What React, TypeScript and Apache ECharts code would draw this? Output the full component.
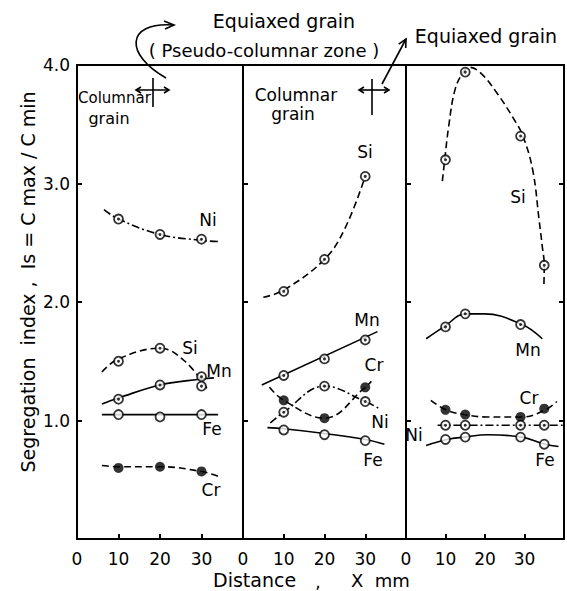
import React, { useEffect, useRef } from "react";
import * as echarts from "echarts";

// ---- data ----
const ptsX12 = [10, 20, 30];
const ptsX3 = [10, 15, 29, 35];

// Panel 1 (columnar grain)
const p1Ni = [2.70, 2.57, 2.53];
const p1Si = [1.50, 1.61, 1.29];
const p1Mn = [1.18, 1.30, 1.37];
const p1Fe = [1.05, 1.03, 1.05];
const p1Cr = [0.60, 0.61, 0.57];
const p1NiCurve = [[6.5, 2.78], [10, 2.70], [20, 2.57], [30, 2.52], [34, 2.51]];
const p1SiCurve = [[6, 1.41], [10, 1.52], [20, 1.61], [26, 1.50], [31.5, 1.26]];
const p1MnCurve = [[6, 1.14], [10, 1.19], [20, 1.30], [30, 1.35], [33, 1.36]];
const p1FeCurve = [[6, 1.05], [34, 1.05]];
const p1CrCurve = [[6, 0.62], [10, 0.61], [20, 0.61], [30, 0.57], [34, 0.53]];

// Panel 2 (pseudo-columnar)
const p2Si = [2.09, 2.36, 3.06];
const p2Mn = [1.38, 1.52, 1.68];
const p2Cr = [1.17, 1.02, 1.28];
const p2Ni = [1.07, 1.29, 1.16];
const p2Fe = [0.92, 0.88, 0.83];
const p2SiCurve = [[5, 2.04], [10, 2.10], [20, 2.36], [25, 2.62], [30, 3.06]];
const p2MnCurve = [[4.6, 1.30], [33, 1.75]];
const p2CrCurve = [[6.5, 1.28], [10, 1.17], [20, 1.02], [30, 1.28], [31.5, 1.33]];
const p2NiCurve = [[6.7, 0.98], [10, 1.07], [20, 1.29], [30, 1.16], [33.5, 1.10]];
const p2FeCurve = [[6, 0.94], [10, 0.93], [20, 0.89], [30, 0.84], [34.7, 0.80]];

// Panel 3 (equiaxed grain)
const p3Si = [3.20, 3.94, 3.40, 2.31];
const p3Mn = [1.79, 1.90, 1.81];
const p3Cr = [1.09, 1.05, 1.03, 1.10];
const p3Ni = [0.96, 0.96, 0.96, 0.96];
const p3Fe = [0.84, 0.86, 0.86, 0.80];
const p3SiCurve = [[9.2, 3.02], [9.8, 3.20], [10.8, 3.48], [12.4, 3.79], [14.5, 3.94], [16.1, 3.98], [19, 3.93], [23.1, 3.76], [27.2, 3.55], [29.6, 3.40], [32.1, 3.11], [33.7, 2.69], [34.5, 2.47], [35.0, 2.31], [34.9, 2.13]];
const p3MnCurve = [[5.1, 1.69], [9.6, 1.79], [15.1, 1.90], [19.8, 1.90], [29.4, 1.81], [34.5, 1.69]];
const p3CrCurve = [[6.3, 1.17], [10.1, 1.09], [14.7, 1.05], [20.6, 1.03], [29.4, 1.03], [35.3, 1.09], [38.2, 1.16]];
const p3NiCurve = [[8, 0.96], [40, 0.96]];
const p3FeCurve = [[5.1, 0.79], [10.4, 0.84], [14.9, 0.86], [20.6, 0.88], [29.4, 0.86], [35.2, 0.80], [38.6, 0.78]];

const xTicks = [0, 10, 20, 30];
const yTicks = ["1.0", "2.0", "3.0", "4.0"];

const FONT = "DejaVu Sans";
const DASH = [7, 4];
const DASHDOT = [8, 3, 2, 3];

function curve(idx: number, data: number[][], type: any) {
  return {
    type: "line",
    xAxisIndex: idx,
    yAxisIndex: idx,
    data,
    smooth: 0.4,
    symbol: "none",
    showSymbol: false,
    silent: true,
    lineStyle: { color: "#000", width: 1.6, type },
    z: 2,
  };
}

function marks(idx: number, xs: number[], ys: number[], kind: "dot" | "open" | "filled") {
  const data = ys.map((v, i) => [xs[i], v]);
  const out: any[] = [];
  if (kind === "filled") {
    out.push({
      type: "scatter", xAxisIndex: idx, yAxisIndex: idx, data, symbol: "circle", symbolSize: 10,
      itemStyle: { color: "#000" }, z: 4, silent: true,
    });
  } else {
    out.push({
      type: "scatter", xAxisIndex: idx, yAxisIndex: idx, data, symbol: "circle", symbolSize: 9,
      itemStyle: { color: "#fff", borderColor: "#000", borderWidth: 1.8 }, z: 4, silent: true,
    });
    if (kind === "dot") {
      out.push({
        type: "scatter", xAxisIndex: idx, yAxisIndex: idx, data, symbol: "circle", symbolSize: 3,
        itemStyle: { color: "#000" }, z: 5, silent: true,
      });
    }
  }
  return out;
}

function text(t: string, x: number, y: number, size = 16, align = "center", rotation = 0) {
  return {
    type: "text", x, y, z: 10, rotation,
    style: { text: t, fill: "#000", font: `${size}px "${FONT}"`, fontSize: size, fontFamily: FONT, textAlign: align, textVerticalAlign: "middle", align, verticalAlign: "middle" },
  };
}

function arrowHead(points: number[][]) {
  return { type: "polyline", z: 10, shape: { points }, style: { stroke: "#000", lineWidth: 1.6, fill: null } };
}

export default function App() {
  const ref = useRef<HTMLDivElement>(null);
  useEffect(() => {
    if (!ref.current) return;
    const chart = echarts.init(ref.current, undefined, { renderer: "svg" });
    const grids = [
      { left: 77, width: 166, top: 65, height: 474 },
      { left: 243, width: 163, top: 65, height: 474 },
      { left: 406, width: 163, top: 65, height: 474 },
    ].map((g) => ({ ...g, show: true, borderColor: "#000", borderWidth: 2, backgroundColor: "transparent" }));

    const xAxes = [0, 1, 2].map((i) => ({
      type: "value", gridIndex: i, min: 0, max: 40, interval: 10,
      axisLine: { show: false },
      axisTick: { show: true, inside: true, length: 5, lineStyle: { color: "#000", width: 2 } },
      splitLine: { show: false },
      axisLabel: {
        show: true, margin: 11, color: "#000", fontSize: 17, fontFamily: FONT,
        formatter: (v: number) => (xTicks.indexOf(v) >= 0 ? String(v) : ""),
      },
    }));

    const yAxes: any[] = [0, 1, 2].map((i) => ({
      type: "value", gridIndex: i, min: 0, max: 4, interval: 1,
      axisLine: { show: false },
      axisTick: { show: true, inside: true, length: 5, lineStyle: { color: "#000", width: 2 } },
      splitLine: { show: false },
      axisLabel: {
        show: i === 0, margin: 7, color: "#000", fontSize: 17, fontFamily: FONT,
        formatter: (v: number) => (v === 0 ? "" : yTicks[v - 1] || ""),
      },
    }));
    yAxes.push({
      type: "value", gridIndex: 2, min: 0, max: 4, interval: 1, position: "right",
      axisLine: { show: false },
      axisTick: { show: true, inside: true, length: 5, lineStyle: { color: "#000", width: 2 } },
      splitLine: { show: false }, axisLabel: { show: false },
    });

    const series: any[] = [
      // panel 1
      curve(0, p1NiCurve, DASHDOT), ...marks(0, ptsX12, p1Ni, "dot"),
      curve(0, p1SiCurve, DASH), ...marks(0, ptsX12, p1Si, "dot"),
      curve(0, p1MnCurve, "solid"), ...marks(0, ptsX12, p1Mn, "dot"),
      curve(0, p1FeCurve, "solid"), ...marks(0, ptsX12, p1Fe, "open"),
      curve(0, p1CrCurve, DASH), ...marks(0, ptsX12, p1Cr, "filled"),
      // panel 2
      curve(1, p2SiCurve, DASH), ...marks(1, ptsX12, p2Si, "dot"),
      curve(1, p2MnCurve, "solid"), ...marks(1, ptsX12, p2Mn, "dot"),
      curve(1, p2CrCurve, DASH), ...marks(1, ptsX12, p2Cr, "filled"),
      curve(1, p2NiCurve, DASHDOT), ...marks(1, ptsX12, p2Ni, "dot"),
      curve(1, p2FeCurve, "solid"), ...marks(1, ptsX12, p2Fe, "open"),
      // panel 3
      curve(2, p3SiCurve, DASH), ...marks(2, ptsX3, p3Si, "dot"),
      curve(2, p3MnCurve, "solid"), ...marks(2, ptsX3, p3Mn, "dot"),
      curve(2, p3CrCurve, DASH), ...marks(2, ptsX3, p3Cr, "filled"),
      curve(2, p3NiCurve, DASHDOT), ...marks(2, ptsX3, p3Ni, "dot"),
      curve(2, p3FeCurve, "solid"), ...marks(2, ptsX3, p3Fe, "open"),
    ];

    const graphic: any[] = [
      // element labels
      text("Ni", 208, 220, 17), text("Si", 190, 348, 17), text("Mn", 219, 371, 17), text("Fe", 212, 429, 17), text("Cr", 211, 490, 17),
      text("Si", 365, 152, 17), text("Mn", 367, 320, 17), text("Cr", 374, 365, 17), text("Ni", 380, 422, 17), text("Fe", 373, 460, 17),
      text("Si", 518, 197, 17), text("Mn", 528, 350, 17), text("Cr", 529, 398, 17), text("Ni", 414, 435, 17), text("Fe", 545, 460, 17),
      // zone texts
      text("Equiaxed grain", 284, 21, 19),
      text("( Pseudo-columnar zone )", 264, 50, 18),
      text("Equiaxed grain", 486, 36, 19),
      text("Columnar", 78, 98, 15, "left"),
      text("grain", 109, 118, 16),
      text("Columnar", 296, 95, 17),
      text("grain", 293, 114, 17),
      // axis titles
      text("Segregation  index ,  Is = C max / C min", 28, 282, 19, "center", Math.PI / 2),
      text("Distance", 213, 580, 19, "left"),
      text(",", 318, 582, 17),
      text("X  mm", 351, 580, 18, "left"),
      // curved arrow
      { type: "bezierCurve", z: 10, shape: { x1: 166, y1: 78, cpx1: 125, cpy1: 55, cpx2: 125, cpy2: 22, x2: 173, y2: 25 }, style: { stroke: "#000", lineWidth: 1.6, fill: null } },
      arrowHead([[164, 21], [174, 25], [165, 29]]),
      // cross marks panel 1
      { type: "line", z: 10, shape: { x1: 153, y1: 78, x2: 153, y2: 107 }, style: { stroke: "#000", lineWidth: 1.6 } },
      { type: "line", z: 10, shape: { x1: 136, y1: 90, x2: 169, y2: 90 }, style: { stroke: "#000", lineWidth: 1.6 } },
      arrowHead([[141, 87], [136, 90], [141, 93]]),
      arrowHead([[164, 87], [169, 90], [164, 93]]),
      // cross marks panel 2
      { type: "line", z: 10, shape: { x1: 372, y1: 79, x2: 372, y2: 115 }, style: { stroke: "#000", lineWidth: 1.6 } },
      { type: "line", z: 10, shape: { x1: 359, y1: 90, x2: 389, y2: 90 }, style: { stroke: "#000", lineWidth: 1.6 } },
      arrowHead([[364, 87], [359, 90], [364, 93]]),
      arrowHead([[384, 87], [389, 90], [384, 93]]),
      // straight arrow to right "Equiaxed grain"
      { type: "line", z: 10, shape: { x1: 382, y1: 84, x2: 406, y2: 39 }, style: { stroke: "#000", lineWidth: 1.6 } },
      arrowHead([[398.7, 44.2], [406, 39], [405.7, 48]]),
    ];

    chart.setOption({
      animation: false,
      backgroundColor: "#fff",
      grid: grids,
      xAxis: xAxes,
      yAxis: yAxes,
      series,
      graphic,
    });
    return () => chart.dispose();
  }, []);
  return <div ref={ref} style={{ position: "fixed", left: 0, top: 0, width: 567, height: 591 }} />;
}
